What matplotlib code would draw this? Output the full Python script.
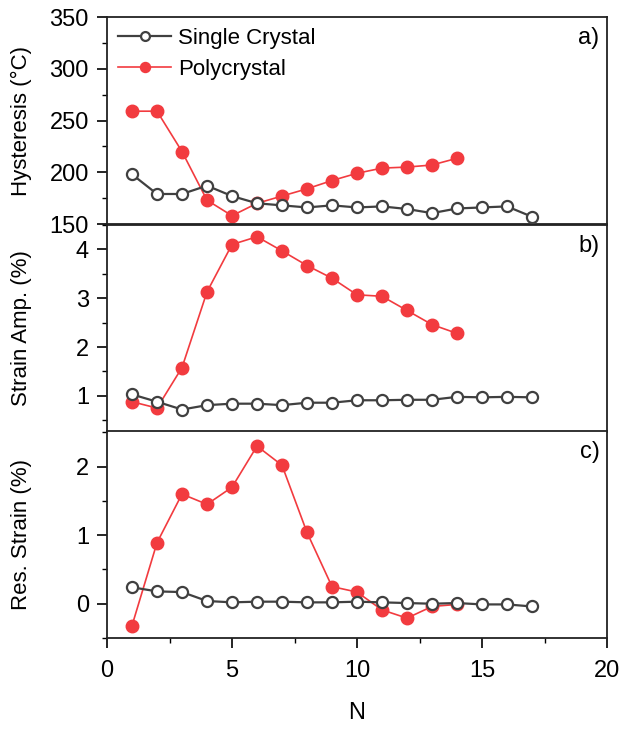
import matplotlib
matplotlib.use("Agg")
import matplotlib.pyplot as plt
from matplotlib.ticker import MultipleLocator

plt.rcParams['font.family'] = ['Liberation Sans', 'DejaVu Sans']

N_single = list(range(1, 18))
N_poly = list(range(1, 15))

hyst_single = [198, 179, 179, 187, 177, 170, 168, 166, 168, 166, 167, 164.5, 160.5, 165, 166, 167, 157]
hyst_poly = [259, 259, 220, 173, 158, 170, 177, 184, 192, 199, 204, 205, 207, 213.5]

amp_single = [1.03, 0.88, 0.72, 0.81, 0.84, 0.84, 0.81, 0.86, 0.86, 0.91, 0.91, 0.92, 0.92, 0.98, 0.97, 0.98, 0.97]
amp_poly = [0.88, 0.75, 1.58, 3.13, 4.10, 4.26, 3.97, 3.67, 3.41, 3.07, 3.04, 2.75, 2.46, 2.28]

res_single = [0.24, 0.18, 0.17, 0.04, 0.02, 0.03, 0.03, 0.02, 0.02, 0.03, 0.02, 0.01, 0.0, 0.01, -0.01, -0.01, -0.04]
res_poly = [-0.32, 0.89, 1.60, 1.45, 1.70, 2.30, 2.02, 1.04, 0.25, 0.17, -0.09, -0.21, -0.04, -0.01]

gray = '#404040'
red = '#f23b3f'

fig = plt.figure(figsize=(6.32, 7.34), dpi=100)
left, right = 107/632, 607/632
tops = [17, 225, 431]
h = 207
axes = []
for t in tops:
    ax = fig.add_axes([left, 1 - (t + h)/734, right - left, h/734])
    axes.append(ax)

datasets = [(hyst_single, hyst_poly), (amp_single, amp_poly), (res_single, res_poly)]
ylabels = ['Hysteresis (°C)', 'Strain Amp. (%)', 'Res. Strain (%)']
ylims = [(150, 350), (0.26, 4.5), (-0.5, 2.52)]
majors = [50, 1, 1]
minors = [25, 0.5, 0.5]
tags = ['a)', 'b)', 'c)']

for i, ax in enumerate(axes):
    s, p = datasets[i]
    ax.plot(N_single, s, '-o', color=gray, lw=1.6, ms=8, mfc='white', mec=gray, mew=1.6,
            label='Single Crystal', zorder=3)
    ax.plot(N_poly, p, '-o', color=red, lw=1.2, ms=9, mfc=red, mec=red,
            label='Polycrystal', zorder=2)
    ax.set_xlim(0, 20)
    ax.set_ylim(*ylims[i])
    ax.yaxis.set_major_locator(MultipleLocator(majors[i]))
    ax.yaxis.set_minor_locator(MultipleLocator(minors[i]))
    ax.tick_params(axis='y', which='major', direction='out', length=7, width=1.2,
                   labelsize=17, pad=6)
    ax.tick_params(axis='y', which='minor', direction='out', length=3.5, width=1.0)
    ax.set_ylabel(ylabels[i], fontsize=16)
    ax.yaxis.set_label_coords(-0.15, 0.5)
    for sp in ax.spines.values():
        sp.set_linewidth(1.3)
        sp.set_color('#222222')
    ax.text(0.985, 0.95, tags[i], transform=ax.transAxes, ha='right', va='top', fontsize=17)
    if i < 2:
        ax.tick_params(axis='x', which='both', bottom=False, labelbottom=False)
    else:
        ax.xaxis.set_major_locator(MultipleLocator(5))
        ax.xaxis.set_minor_locator(MultipleLocator(2.5))
        ax.tick_params(axis='x', which='major', direction='out', length=7, width=1.2,
                       labelsize=17, pad=9)
        ax.tick_params(axis='x', which='minor', direction='out', length=3.5, width=1.0)
        ax.set_xlabel('N', fontsize=17, labelpad=14)

axes[0].legend(loc='upper left', frameon=False, fontsize=16, handlelength=2.4,
               borderaxespad=0.35, handletextpad=0.3, labelspacing=0.45, borderpad=0.15,
               markerscale=0.8)

fig.savefig('out.png', dpi=100)
